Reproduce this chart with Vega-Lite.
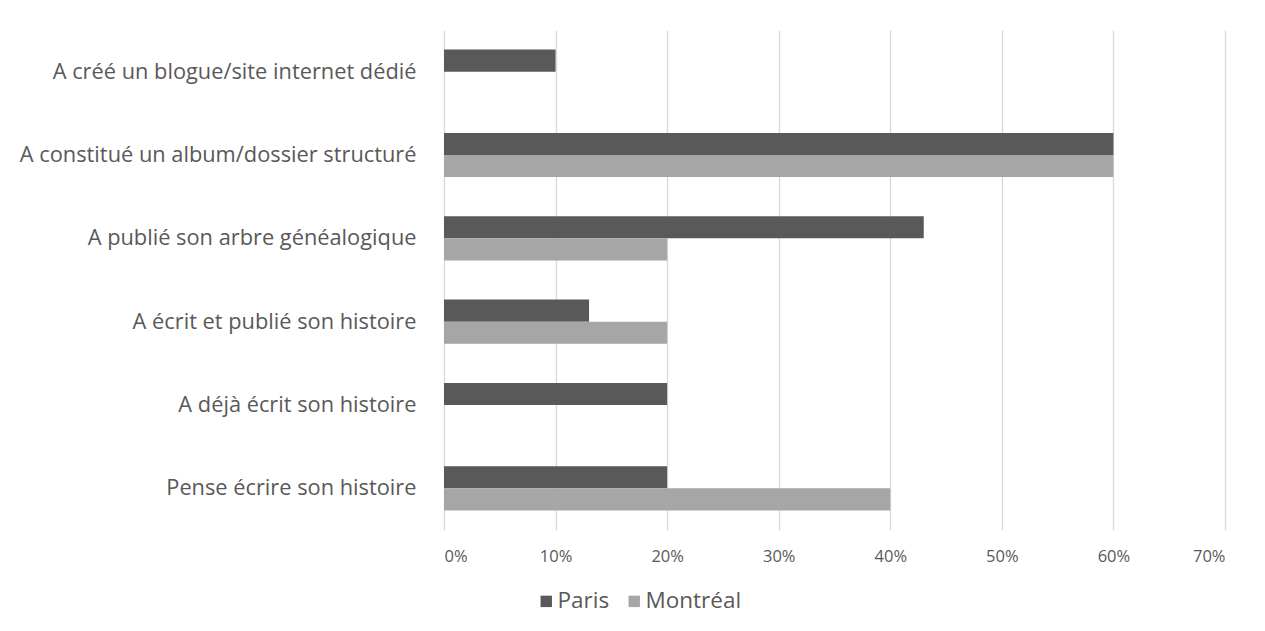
{
  "$schema": "https://vega.github.io/schema/vega-lite/v6.json",
  "autosize": {"type": "none"},
  "padding": {"left": 444, "top": 30, "right": 40, "bottom": 101},
  "width": 781,
  "height": 500,
  "background": "#ffffff",
  "config": {
    "view": {"stroke": null},
    "font": "Open Sans",
    "axis": {"labelFont": "Open Sans", "labelColor": "#595959"},
    "legend": {"labelFont": "Open Sans", "labelColor": "#595959"}
  },
  "data": {
    "values": [
      {"activite": "A créé un blogue/site internet dédié", "ville": "Paris", "part": 0.10},
      {"activite": "A créé un blogue/site internet dédié", "ville": "Montréal", "part": 0},
      {"activite": "A constitué un album/dossier structuré", "ville": "Paris", "part": 0.60},
      {"activite": "A constitué un album/dossier structuré", "ville": "Montréal", "part": 0.60},
      {"activite": "A publié son arbre généalogique", "ville": "Paris", "part": 0.43},
      {"activite": "A publié son arbre généalogique", "ville": "Montréal", "part": 0.20},
      {"activite": "A écrit et publié son histoire", "ville": "Paris", "part": 0.13},
      {"activite": "A écrit et publié son histoire", "ville": "Montréal", "part": 0.20},
      {"activite": "A déjà écrit son histoire", "ville": "Paris", "part": 0.20},
      {"activite": "A déjà écrit son histoire", "ville": "Montréal", "part": 0},
      {"activite": "Pense écrire son histoire", "ville": "Paris", "part": 0.20},
      {"activite": "Pense écrire son histoire", "ville": "Montréal", "part": 0.40}
    ]
  },
  "mark": {"type": "bar"},
  "encoding": {
    "y": {
      "field": "activite",
      "type": "nominal",
      "sort": null,
      "scale": {"paddingInner": 0.47, "paddingOuter": 0.235},
      "axis": {
        "title": null,
        "domain": false,
        "ticks": false,
        "grid": false,
        "labelFontSize": 21.8,
        "labelPadding": 28,
        "labelLimit": 440
      }
    },
    "yOffset": {
      "field": "ville",
      "type": "nominal",
      "sort": ["Paris", "Montréal"],
      "scale": {"paddingInner": 0, "paddingOuter": 0}
    },
    "x": {
      "field": "part",
      "type": "quantitative",
      "scale": {"domain": [0, 0.7], "nice": false},
      "axis": {
        "title": null,
        "format": ".0%",
        "values": [0, 0.1, 0.2, 0.3, 0.4, 0.5, 0.6, 0.7],
        "domain": false,
        "ticks": false,
        "grid": true,
        "gridColor": "#d9d9d9",
        "gridWidth": 1.3,
        "labelFontSize": 16.5,
        "labelPadding": 18
      }
    },
    "color": {
      "field": "ville",
      "type": "nominal",
      "sort": ["Paris", "Montréal"],
      "scale": {"domain": ["Paris", "Montréal"], "range": ["#595959", "#a6a6a6"]},
      "legend": {
        "title": null,
        "orient": "none",
        "direction": "horizontal",
        "legendX": 91,
        "legendY": 560,
        "symbolType": "square",
        "symbolSize": 130,
        "symbolStrokeWidth": 0,
        "labelFontSize": 22.5,
        "columnPadding": 13,
        "labelOffset": 0
      }
    }
  }
}
